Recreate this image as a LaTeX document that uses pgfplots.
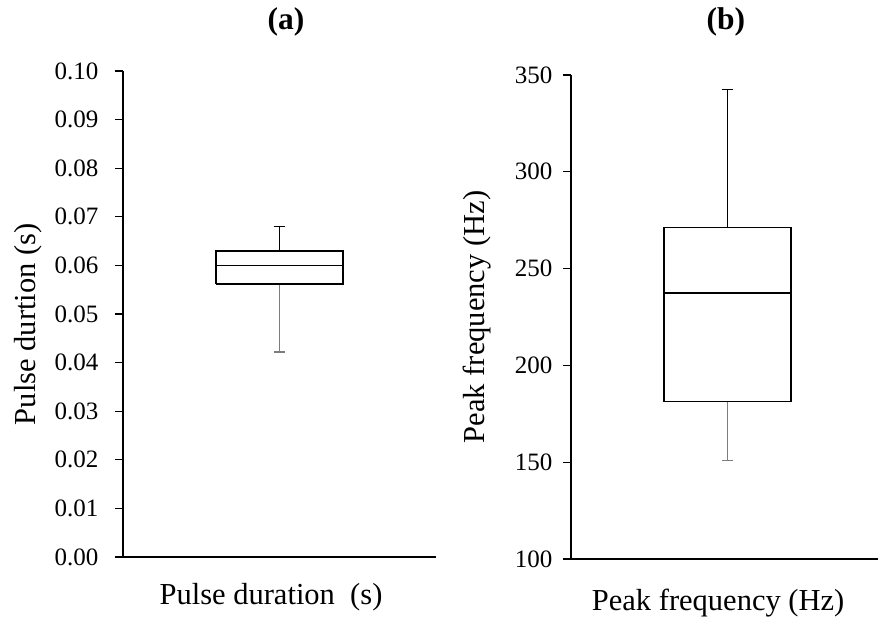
\documentclass[border=0pt]{standalone}
\usepackage{fontspec}
\setmainfont{Liberation Serif}
\usepackage{pgfplots}
\pgfplotsset{compat=1.18}
\definecolor{wgray}{RGB}{125,125,125}
\begin{document}
\begin{tikzpicture}
\useasboundingbox (0pt,0pt) rectangle (878pt,-620pt);
\pgfplotsset{myaxis/.style={
  scale only axis, width=313pt,
  axis x line*=bottom, axis y line*=left,
  xmin=0, xmax=2, xtick=\empty,
  tick align=outside, major tick length=8pt,
  tick style={line width=1.3pt, black},
  axis line style={line width=1.5pt, black},
  /pgf/number format/assume math mode=true,
  tick label style={font=\fontsize{25}{30}\selectfont},
  label style={font=\fontsize{30.5}{36}\selectfont},
  title style={font=\fontsize{31.5}{36}\selectfont\bfseries},
  clip=false,
}}
% Panel (a)
\begin{axis}[myaxis, at={(123pt,-557pt)}, anchor=south west, height=486pt,
  ymin=0, ymax=0.1,
  ytick={0,0.01,0.02,0.03,0.04,0.05,0.06,0.07,0.08,0.09,0.1},
  yticklabel style={xshift=-13pt, /pgf/number format/.cd, fixed, fixed zerofill, precision=2},
  ylabel={Pulse durtion (s)},
  ylabel style={at={(axis description cs:-0.304,0.479)}, anchor=center},
  xlabel={Pulse duration\ \ (s)},
  xlabel style={at={(axis description cs:0.473,-0.082)}, anchor=center},
  title={(a)},
  title style={at={(axis description cs:0.521,1.088)}, anchor=center},
]
% whiskers
\addplot[wgray, line width=1.3pt] coordinates {(1,0.0562) (1,0.0422)};
\addplot[wgray, line width=1.3pt] coordinates {(0.9625,0.0422) (1.0375,0.0422)};
\addplot[black, line width=1.3pt] coordinates {(1,0.063) (1,0.068)};
\addplot[black, line width=1.3pt] coordinates {(0.9625,0.068) (1.0375,0.068)};
% box
\addplot[black, line width=1.4pt, line join=miter, fill=white] coordinates {(0.595,0.0562) (1.405,0.0562) (1.405,0.063) (0.595,0.063) (0.595,0.0562)};
% median
\addplot[black, line width=1.8pt] coordinates {(0.595,0.060) (1.405,0.060)};
\end{axis}
% Panel (b)
\begin{axis}[myaxis, at={(571pt,-559pt)}, anchor=south west, height=484pt,
  ymin=100, ymax=350,
  ytick={100,150,200,250,300,350},
  yticklabel style={xshift=-7pt},
  ylabel={Peak frequency (Hz)},
  ylabel style={at={(axis description cs:-0.30,0.5)}, anchor=center},
  xlabel={Peak frequency (Hz)},
  xlabel style={at={(axis description cs:0.47,-0.091)}, anchor=center},
  title={(b)},
  title style={at={(axis description cs:0.495,1.097)}, anchor=center},
]
\addplot[wgray, line width=1.3pt] coordinates {(1,181.2) (1,151)};
\addplot[wgray, line width=1.3pt] coordinates {(0.9625,151) (1.0375,151)};
\addplot[black, line width=1.3pt] coordinates {(1,271.2) (1,342.5)};
\addplot[black, line width=1.3pt] coordinates {(0.9625,342.5) (1.0375,342.5)};
\addplot[black, line width=1.4pt, line join=miter, fill=white] coordinates {(0.595,181.2) (1.405,181.2) (1.405,271.2) (0.595,271.2) (0.595,181.2)};
\addplot[black, line width=1.8pt] coordinates {(0.595,237.3) (1.405,237.3)};
\end{axis}
\end{tikzpicture}
\end{document}
